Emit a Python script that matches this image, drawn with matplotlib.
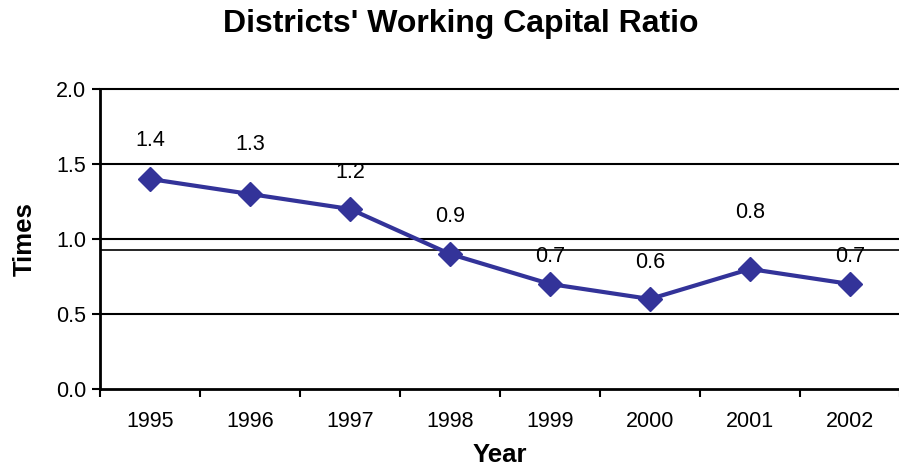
import matplotlib
matplotlib.use("Agg")
import matplotlib.pyplot as plt
import numpy as np

plt.rcParams['font.family'] = ['Liberation Sans', 'DejaVu Sans']

years = ['1995', '1996', '1997', '1998', '1999', '2000', '2001', '2002']
ratio = [1.4, 1.3, 1.2, 0.9, 0.7, 0.6, 0.8, 0.7]
ref_line = 0.93
label_offsets_px = [38, 49, 36, 37, 27, 37, 56, 27]

fig = plt.figure(figsize=(8.99, 4.67), dpi=100)
ax = fig.add_axes([100/899, 78/467, 800/899, 300/467])

x = np.arange(len(years))
ax.set_xlim(-0.5, len(years) - 0.5)
ax.set_ylim(0, 2.0)

for yv in [0.5, 1.0, 1.5, 2.0]:
    ax.axhline(yv, color='black', lw=1.5, zorder=1, clip_on=False)
ax.axhline(ref_line, color='black', lw=1.2, zorder=1)

ax.plot(x, ratio, color='#333399', lw=3, marker='D', markersize=12,
        zorder=3, clip_on=False)

for xi, v, off in zip(x, ratio, label_offsets_px):
    ax.annotate(f'{v:.1f}', (xi, v), xytext=(0, off), textcoords='offset pixels',
                ha='center', va='center', fontsize=15.5, color='black')

ax.set_yticks([0, 0.5, 1.0, 1.5, 2.0])
ax.set_yticklabels(['0.0', '0.5', '1.0', '1.5', '2.0'], fontsize=15.5)
ax.set_xticks(np.arange(-0.5, len(years), 1.0))
ax.set_xticklabels([])
ax.set_xticks(x, minor=True)
ax.set_xticklabels(years, minor=True, fontsize=15.5)
ax.tick_params(axis='x', which='minor', length=0, pad=16)
ax.tick_params(axis='x', which='major', length=6, width=1.5, direction='out')
ax.tick_params(axis='y', length=6, width=1.5, direction='out', pad=4)

for s in ['top', 'right']:
    ax.spines[s].set_visible(False)
for s in ['left', 'bottom']:
    ax.spines[s].set_linewidth(2)
    ax.spines[s].set_color('black')

ax.set_xlabel('Year', fontsize=18.5, fontweight='bold', labelpad=8)
ax.set_ylabel('Times', fontsize=18.5, fontweight='bold', labelpad=14)
fig.suptitle("Districts' Working Capital Ratio", fontsize=23, fontweight='bold',
             x=0.513, y=0.98)

fig.savefig('out.png', dpi=100)
